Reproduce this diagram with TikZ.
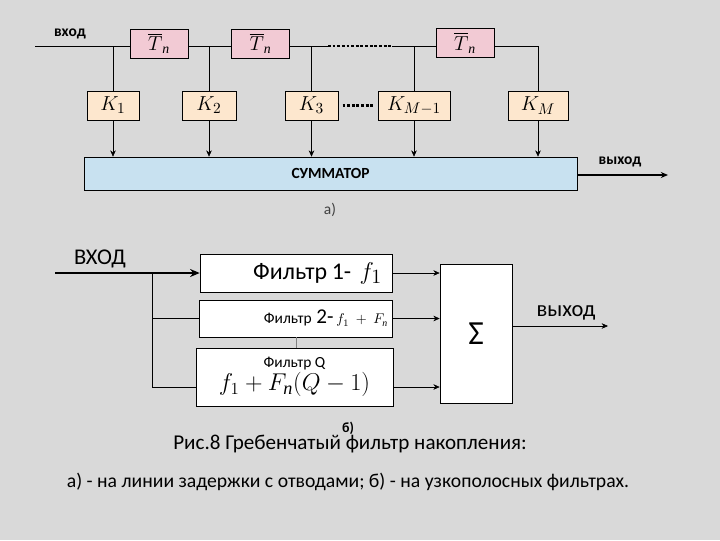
\documentclass[tikz,border=0pt]{standalone}
\usepackage{fontspec}
\usepackage{amsmath}
\setmainfont{Carlito}
\newfontfamily\cyrserif{Liberation Serif}
\usetikzlibrary{arrows.meta, positioning}
\definecolor{cBack}{RGB}{217,217,217}
\definecolor{cPink}{RGB}{242,202,212}
\definecolor{cPeach}{RGB}{253,231,206}
\definecolor{cSky}{RGB}{200,225,240}
\newcommand{\sbp}{\text{\cyrserif\itshape п}}
\tikzset{
	delay/.style={draw=black, fill=cPink, minimum width=1.45cm, minimum height=0.725cm, inner sep=0pt, font=\fontsize{14}{14}\selectfont},
	coef/.style={draw=black, fill=cPeach, minimum height=0.725cm, inner sep=0pt, font=\fontsize{15}{15}\selectfont},
	filt/.style={draw=black, fill=white, inner ysep=0pt},
	tap/.style={-{Stealth[length=1.6mm, width=1.4mm]}},
	bus/.style={line width=1.6pt, dash pattern=on 2pt off 1.3pt},
	lab/.style={inner sep=0pt},
}
\begin{document}
\begin{tikzpicture}[x=0.025cm, y=-0.025cm]
\fill[cBack] (0,0) rectangle (720,540);
\useasboundingbox (0,0) rectangle (720,540);
% а) delay line with taps
\coordinate (in) at (35,46);
\node[delay] (T1) at (159,43.5) {$\overline{T}_{\sbp}$};
\node[delay] (T2) at (260.5,43.5) {$\overline{T}_{\sbp}$};
\node[delay] (T3) at (465,43) {$\overline{T}_{\sbp}$};
\node[coef, minimum width=1.3cm] (K1) at (113,105.5) {$K_1$};
\node[coef, minimum width=1.35cm] (K2) at (209,105.5) {$K_2$};
\node[coef, minimum width=1.325cm] (K3) at (311.5,105.5) {$K_3$};
\node[coef, minimum width=1.8cm] (K4) at (414,105.5) {$K_{M-1}$};
\node[coef, minimum width=1.5cm] (K5) at (538,105.5) {$K_M$};
\node[draw=black, fill=cSky, minimum width=12.325cm, minimum height=0.825cm, font=\bfseries\fontsize{11}{11}\selectfont] (sum) at (330.5,173.5) {СУММАТОР};
\coordinate (d1) at (328,46);
\coordinate (d2) at (392,46);
\draw (in) -- (in -| T1.west);
\draw (T1.east |- in) -- (T2.west |- in);
\draw (T2.east |- in) -- (d1);
\draw[bus] (d1) -- (d2);
\draw (d2) -- (T3.west |- in);
\draw (T3.east |- in) -| (K5.north);
\foreach \k in {K1,K2,K3,K4}
	\draw (\k.north) -- (\k.north |- in);
\foreach \k in {K1,K2,K3,K4,K5}
	\draw[tap] (\k.south) -- (\k.south |- sum.north);
\draw[bus, shorten <=3pt, shorten >=2pt] (K3.east) -- (K4.west);
\coordinate (out1) at (668,175);
\draw[thick, -{Stealth[length=1.8mm, width=1.5mm]}] (sum.east |- out1) -- (out1);
\node[lab, font=\bfseries\fontsize{11}{11}\selectfont] (inlab) at (70,34) {вход};
\node[lab, font=\bfseries\fontsize{11}{11}\selectfont] (outlab) at (620,162) {выход};
\node[lab, font=\fontsize{11}{11}\selectfont, text=black!75] (capa) at (330,210) {а)};
% б) bank of narrow-band filters
\coordinate (in2) at (55,273);
\coordinate (fork) at (152,273);
\coordinate (qrow) at (152,387);
\coordinate (out2) at (608,326);
\node[lab, font=\fontsize{16}{16}\selectfont] (inlab2) at (100,259) {ВХОД};
\node[filt, minimum width=4.8cm, minimum height=0.95cm, text width=4.3cm, align=right] (F1) at (296,273)
	{{\fontsize{17}{18}\selectfont Фильтр 1-}\hspace{0.6em}{\fontsize{19}{19}\selectfont$f_1$}};
\node[filt, minimum width=4.8cm, minimum height=0.925cm, text width=4.6cm, align=right] (F2) at (296,318.5)
	{{\fontsize{11}{11}\selectfont Фильтр }{\fontsize{15}{15}\selectfont 2-}\hspace{2pt}{\fontsize{10}{10}\selectfont$f_1+F_{\sbp}$}};
\node[filt, minimum width=4.925cm, minimum height=1.45cm, align=center] (FQ) at (294.5,377)
	{{\fontsize{11}{13}\selectfont Фильтр Q}\\[1pt]{\fontsize{18.5}{19}\selectfont$f_1+F_{\sbp}(Q-1)$}};
\node[filt, minimum width=1.8cm, minimum height=3.475cm, font=\fontsize{24}{24}\selectfont] (sig) at (476,333.5) {Σ};
\draw[line width=1.6pt, -{Stealth[length=2.4mm, width=2mm]}] (in2) -- (F1.west);
\draw (fork) -- (qrow) -- (qrow -| FQ.west);
\draw (fork |- F2.west) -- (F2.west);
\draw[gray] (F2.south) -- (F2.south |- FQ.north);
\draw[tap] (F1.east) -- (F1.east -| sig.west);
\draw[tap] (F2.east) -- (F2.east -| sig.west);
\draw[tap] (FQ.east |- qrow) -- (sig.west |- qrow);
\draw[tap] (sig.east |- out2) -- (out2);
\node[lab, font=\fontsize{16}{16}\selectfont] (outlab2) at (566,313) {выход};
\node[lab, font=\bfseries\fontsize{10}{10}\selectfont] (capb) at (348,428) {б)};
\node[lab, font=\fontsize{15}{15}\selectfont] (cap1) at (350,444) {Рис.8 Гребенчатый фильтр накопления:};
\node[lab, font=\fontsize{14}{14}\selectfont] (cap2) at (348,482) {а) - на линии задержки с отводами; б) - на узкополосных фильтрах.};
\end{tikzpicture}
\end{document}
